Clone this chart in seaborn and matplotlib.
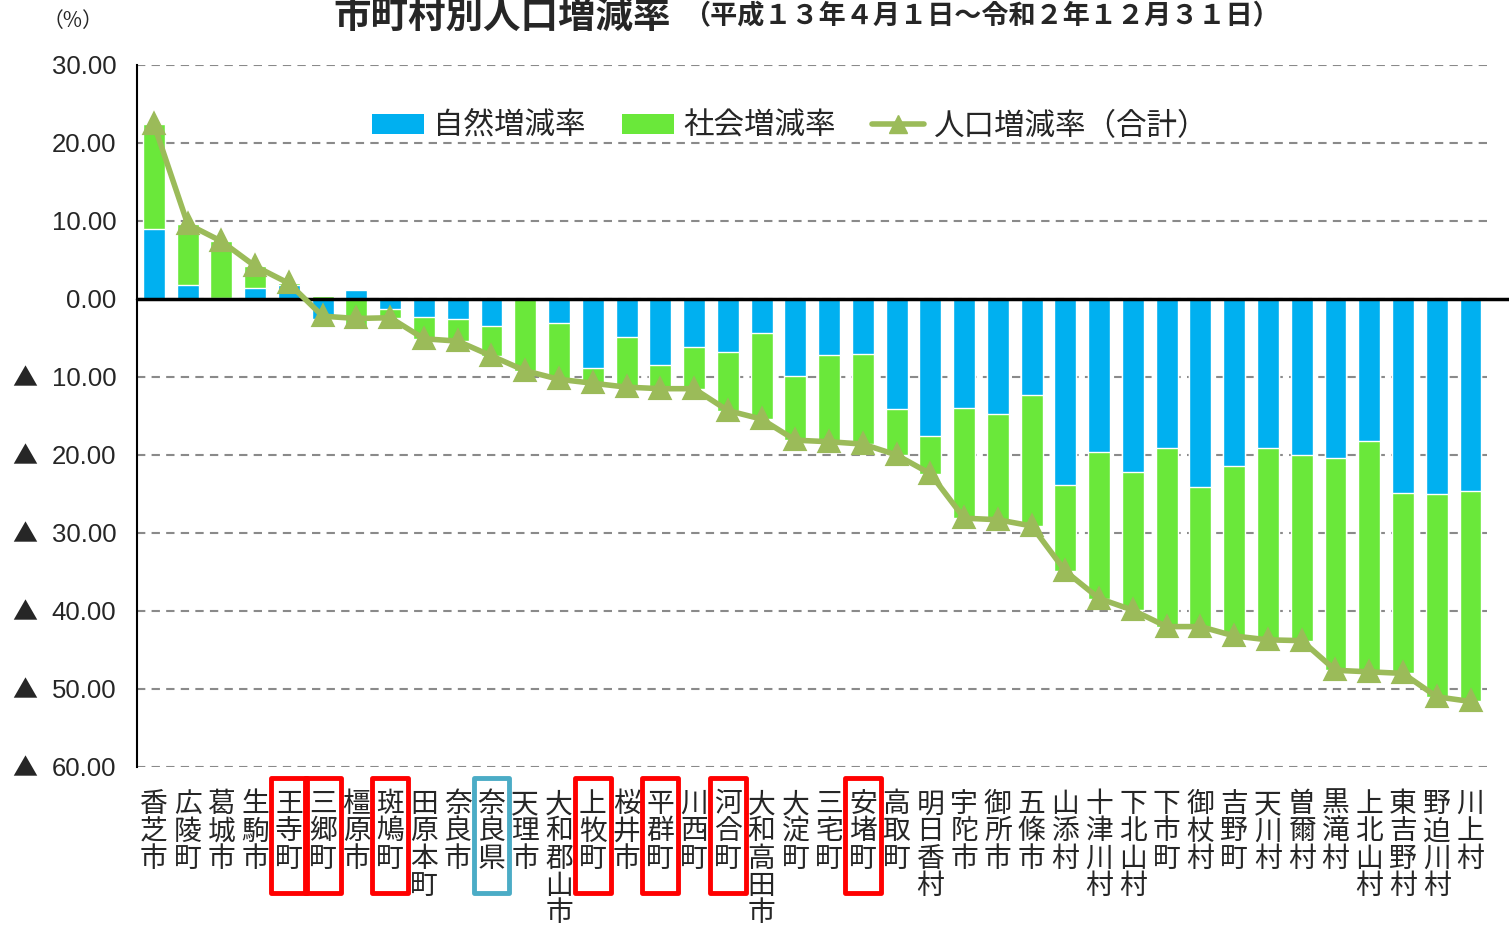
import numpy as np
import pandas as pd
import matplotlib
matplotlib.use("Agg")
import matplotlib.pyplot as plt
import matplotlib.transforms as mtransforms
import seaborn as sns
from matplotlib.patches import Patch, Rectangle
from matplotlib.lines import Line2D
from matplotlib.ticker import FuncFormatter, MultipleLocator

# 市町村名（人口増減率の高い順）
names = [
    "香芝市", "広陵町", "葛城市", "生駒市", "王寺町", "三郷町", "橿原市", "斑鳩町",
    "田原本町", "奈良市", "奈良県", "天理市", "大和郡山市", "上牧町", "桜井市", "平群町",
    "川西町", "河合町", "大和高田市", "大淀町", "三宅町", "安堵町", "高取町", "明日香村",
    "宇陀市", "御所市", "五條市", "山添村", "十津川村", "下北山村", "下市町", "御杖村",
    "吉野町", "天川村", "曽爾村", "黒滝村", "上北山村", "東吉野村", "野迫川村", "川上村",
]
# 自然増減率 (%)
natural = [
    9.0, 1.8, 0.1, 1.4, 1.8, -2.6, 1.1, -1.3,
    -2.3, -2.6, -3.4, 0.0, -3.1, -8.9, -4.9, -8.5,
    -6.1, -6.8, -4.4, -9.9, -7.2, -7.0, -14.1, -17.6,
    -14.0, -14.7, -12.3, -23.9, -19.6, -22.2, -19.1, -24.1,
    -21.4, -19.1, -20.0, -20.4, -18.2, -24.9, -25.0, -24.6,
]
# 社会増減率 (%)
social = [
    13.4, 7.8, 7.3, 2.8, 0.2, 0.4, -3.6, -1.1,
    -2.8, -2.8, -3.9, -9.2, -7.2, -1.9, -6.4, -3.0,
    -5.4, -7.5, -11.0, -8.2, -11.1, -11.6, -5.9, -4.8,
    -14.1, -13.6, -16.8, -11.0, -18.8, -17.7, -22.9, -17.9,
    -21.8, -24.6, -23.8, -27.2, -29.6, -23.1, -26.0, -27.0,
]
red_boxed = ["王寺町", "三郷町", "斑鳩町", "上牧町", "平群町", "河合町", "安堵町"]
blue_boxed = ["奈良県"]

BLUE = "#00B0F0"
GREEN = "#6AE83A"
OLIVE = "#9BBB59"

sns.set_style("white")
plt.rcParams["font.family"] = ["Noto Sans CJK JP", "DejaVu Sans"]

df = pd.DataFrame({"name": names, "natural": natural, "social": social})
df["total"] = df["natural"] + df["social"]
# 同符号なら積み上げ、異符号ならそれぞれ 0 から描く
same_sign = np.sign(df["natural"]) == np.sign(df["social"])
df["green_h"] = np.where(same_sign, df["total"], df["social"])

fig = plt.figure(figsize=(15.09, 9.27), dpi=100)
ax = fig.add_axes([0.0908, 0.1726, 0.896, 0.7573])

sns.barplot(data=df, x="name", y="green_h", color=GREEN, saturation=1,
            width=0.65, ax=ax, zorder=2)
sns.barplot(data=df, x="name", y="natural", color=BLUE, saturation=1,
            width=0.65, ax=ax, zorder=2)
sns.pointplot(data=df, x="name", y="total", color=OLIVE, markers="^",
              markersize=13, linewidth=4, errorbar=None, ax=ax, zorder=4)

ax.set_xlim(-0.5, 39.55)
ax.set_ylim(-60, 30)
ax.set_xlabel("")
ax.set_ylabel("")

ax.axhline(0, color="black", lw=2.5, xmin=0, xmax=1.015, clip_on=False, zorder=3)

ax.set_axisbelow(True)
ax.yaxis.set_major_locator(MultipleLocator(10))
ax.yaxis.grid(True, linestyle=(0, (4, 3)), color="#8a8a8a", lw=1.5)
ax.xaxis.grid(False)
for side in ["top", "right", "bottom"]:
    ax.spines[side].set_visible(False)
ax.spines["left"].set_color("black")
ax.spines["left"].set_linewidth(1.5)

# 数値は絶対値で表示し、マイナスは左端に ▲ を付ける
ax.yaxis.set_major_formatter(FuncFormatter(lambda v, pos: f"{abs(v):.2f}"))
ax.tick_params(axis="y", direction="inout", length=8, width=1.5, color="black",
               labelsize=18.5, pad=11)
for lab in ax.get_yticklabels():
    lab.set_family(["Liberation Sans", "Noto Sans CJK JP"])

tri_trans = mtransforms.blended_transform_factory(fig.transFigure, ax.transData)
for v in ax.get_yticks():
    if v < 0 and v >= -60:
        ax.text(0.0166, v - 0.35, "▲", transform=tri_trans, fontsize=18, ha="center",
                va="center", family=["Noto Sans CJK JP", "DejaVu Sans"], clip_on=False)

ax.set_xticks(range(len(names)))
ax.set_xticklabels(["\n".join(n) for n in names], fontsize=20, linespacing=0.88,
                   va="top")
ax.tick_params(axis="x", length=0, pad=16)

# 枠囲み
trans = mtransforms.blended_transform_factory(ax.transData, ax.transAxes)
for n, col in [(n, "#FF0000") for n in red_boxed] + [(n, "#4BACC6") for n in blue_boxed]:
    i = names.index(n)
    ax.add_patch(Rectangle((i - 0.53, -0.1795), 1.06, 0.1638, transform=trans,
                           fill=False, edgecolor=col, lw=3.5, joinstyle="round",
                           clip_on=False, zorder=5))

handles = [
    Patch(facecolor=BLUE, edgecolor="none", label="自然増減率"),
    Patch(facecolor=GREEN, edgecolor="none", label="社会増減率"),
    Line2D([], [], color=OLIVE, lw=4, marker="^", markersize=13, label="人口増減率（合計）"),
]
fig.legend(handles=handles, loc="center", bbox_to_anchor=(0.5235, 0.864), ncol=3,
           frameon=False, fontsize=22, handlelength=1.7, handleheight=0.6,
           handletextpad=0.3, columnspacing=1.2)

fig.text(0.2207, 0.982, "市町村別人口増減率", fontsize=27, fontweight="bold",
         va="center", ha="left")
fig.text(0.4526, 0.982, "（平成１３年４月１日～令和２年１２月３１日）", fontsize=19.5,
         fontweight="bold", va="center", ha="left")
fig.text(0.028, 0.977, "（%）", fontsize=15, va="center", ha="left")

fig.savefig("out.png", dpi=100)
